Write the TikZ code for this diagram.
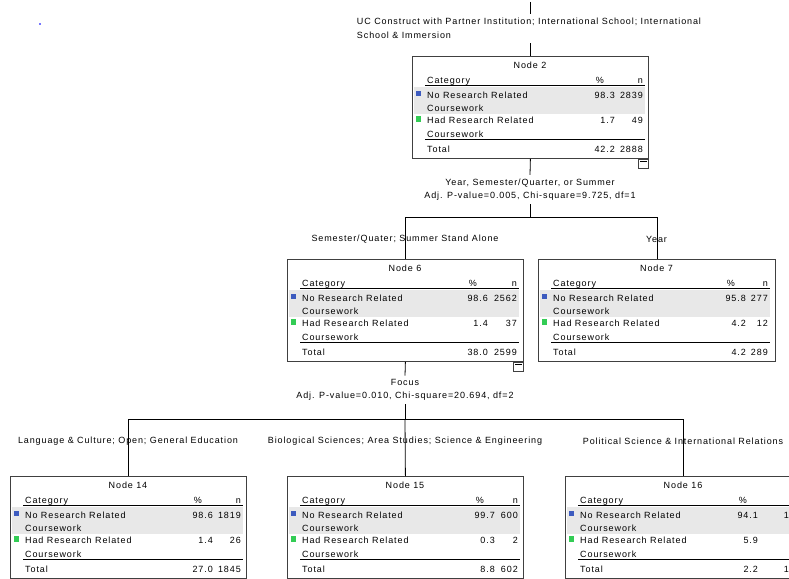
\documentclass[tikz,border=0pt]{standalone}
\usepackage{fontspec}
\setmainfont{Liberation Sans}[LetterSpace=10]
\definecolor{blu}{HTML}{3D5BBF}
\definecolor{grn}{HTML}{33CC55}
\definecolor{band}{HTML}{E8E8E8}
\definecolor{brd}{HTML}{404040}
\definecolor{dotc}{HTML}{7777FF}
\tikzset{
  lbl/.style={font=\fontsize{9}{10}\selectfont, inner sep=0pt, text=black},
  boxst/.style={draw=brd, line width=0.8pt, inner sep=0pt, anchor=north west},
  conn/.style={draw=black, line width=0.8pt},
  splitlbl/.style={lbl, align=center, inner ysep=4pt, font=\fontsize{9}{12.5}\selectfont},
  minusbox/.style={draw=brd, line width=0.7pt, minimum width=10pt, minimum height=9pt, inner sep=0pt, anchor=north east},
}
% name, L, T, R, pct-right, n-right, title
\newcommand{\ctbox}[7]{%
  \def\cL{#2}\def\cT{#3}\def\cP{#5}\def\cN{#6}\def\cn{#1}%
  \fill[band] (#2+2,#3+31) rectangle (#6+2,#3+58);
  \node[boxst, minimum width={#4-#2}, minimum height=102] (#1) at (#2,#3) {};
  \node[lbl, anchor=base] (#1-t) at ({(#2+#4)/2},#3+12) {#7};
  \node[lbl, anchor=base west] (#1-c) at (#2+15,#3+27) {Category};
  \node[lbl, anchor=base east] (#1-ph) at (#5-11,#3+27) {\%};
  \node[lbl, anchor=base east] (#1-nh) at (#6,#3+27) {n};
  \draw[line width=0.8pt] (#2+13,#3+29.5) -- (#6+2,#3+29.5);
  \fill[blu] (#2+4,#3+34.5) rectangle (#2+9,#3+40);
  \node[lbl, anchor=base west] (#1-a1) at (#2+15,#3+42.5) {No Research Related};
  \node[lbl, anchor=base west] (#1-a2) at (#2+15,#3+55.5) {Coursework};
  \fill[grn] (#2+4,#3+60) rectangle (#2+9,#3+65.5);
  \node[lbl, anchor=base west] (#1-b1) at (#2+15,#3+67.5) {Had Research Related};
  \node[lbl, anchor=base west] (#1-b2) at (#2+15,#3+81) {Coursework};
  \draw[line width=1.1pt] (#2+13,#3+83.5) -- (#6+2,#3+83.5);
  \node[lbl, anchor=base west] (#1-tt) at (#2+15,#3+96.5) {Total};
}
\newcommand{\ctvals}[6]{%
  \node[lbl, anchor=base east] (\cn-p1) at (\cP,\cT+42.5) {#1};
  \node[lbl, anchor=base east] (\cn-n1) at (\cN,\cT+42.5) {#2};
  \node[lbl, anchor=base east] (\cn-p2) at (\cP,\cT+67.5) {#3};
  \node[lbl, anchor=base east] (\cn-n2) at (\cN,\cT+67.5) {#4};
  \node[lbl, anchor=base east] (\cn-pt) at (\cP,\cT+96.5) {#5};
  \node[lbl, anchor=base east] (\cn-nt) at (\cN,\cT+96.5) {#6};
}
\begin{document}
\begin{tikzpicture}[x=1pt,y=-1pt]
\useasboundingbox (0,0) rectangle (789,578);
\clip (0,0) rectangle (789,578);
\fill[white] (0,0) rectangle (789,578);
\fill[dotc] (39,23) rectangle (41,25);

% node boxes
\ctbox{n2}{412}{56}{648}{615}{643}{Node 2}
\ctvals{98.3}{2839}{1.7}{49}{42.2}{2888}
\node[minusbox] (n2m) at (n2.south east) {};
\draw[line width=0.7pt] ([xshift=2pt,yshift=-3pt]n2m.north west) -- ([xshift=-2pt,yshift=-3pt]n2m.north east);

\ctbox{n6}{287}{259}{523}{488}{517}{Node 6}
\ctvals{98.6}{2562}{1.4}{37}{38.0}{2599}
\node[minusbox] (n6m) at (n6.south east) {};
\draw[line width=0.7pt] ([xshift=2pt,yshift=-3pt]n6m.north west) -- ([xshift=-2pt,yshift=-3pt]n6m.north east);

\ctbox{n7}{538}{259}{775}{746}{768}{Node 7}
\ctvals{95.8}{277}{4.2}{12}{4.2}{289}

\ctbox{n14}{10}{476}{246}{213}{241}{Node 14}
\ctvals{98.6}{1819}{1.4}{26}{27.0}{1845}

\ctbox{n15}{287}{476}{523}{495}{518}{Node 15}
\ctvals{99.7}{600}{0.3}{2}{8.8}{602}

\ctbox{n16}{565}{476}{801}{758}{801}{Node 16}
\ctvals{94.1}{144}{5.9}{9}{2.2}{153}

% top label and connector into Node 2
\coordinate (root) at (530,2);
\node[lbl, align=left, inner ysep=4pt, font=\fontsize{9}{14.5}\selectfont] (lab0) at (529,28.5)
  {UC Construct with Partner Institution; International School; International\\School \& Immersion};
\draw[conn] (root) -- (root |- lab0.north);
\draw[conn] (root |- lab0.south) -- (root |- n2.north);

% first split
\node[splitlbl] (sp2) at (530,189.5)
  {Year, Semester/Quarter, or Summer\\Adj. P-value=0.005, Chi-square=9.725, df=1};
\coordinate (j1) at (530,217);
\draw[conn] (n2.south) -- (sp2.north);
\draw[conn] (sp2.south) -- (j1);
\draw[conn] (n6.north) -- (n6.north |- j1) -- (n7.north |- j1) -- (n7.north);
\node[lbl] (lb6) at (405,239) {Semester/Quater; Summer Stand Alone};
\node[lbl] (lb7) at (656.5,239) {Year};

% second split
\node[splitlbl] (sp6) at (405,390)
  {Focus\\Adj. P-value=0.010, Chi-square=20.694, df=2};
\coordinate (j2) at (405,419);
\draw[conn] (n6.south) -- (sp6.north);
\draw[conn] (sp6.south) -- (j2);
\draw[conn] (n14.north) -- (n14.north |- j2) -- (n16.north |- j2) -- (n16.north);
\draw[conn] (j2) -- (n15.north);
\node[lbl] (lb14) at (128,441) {Language \& Culture; Open; General Education};
\node[lbl] (lb15) at (405,441) {Biological Sciences; Area Studies; Science \& Engineering};
\node[lbl] (lb16) at (683,441) {Political Science \& International Relations};
\end{tikzpicture}
\end{document}
